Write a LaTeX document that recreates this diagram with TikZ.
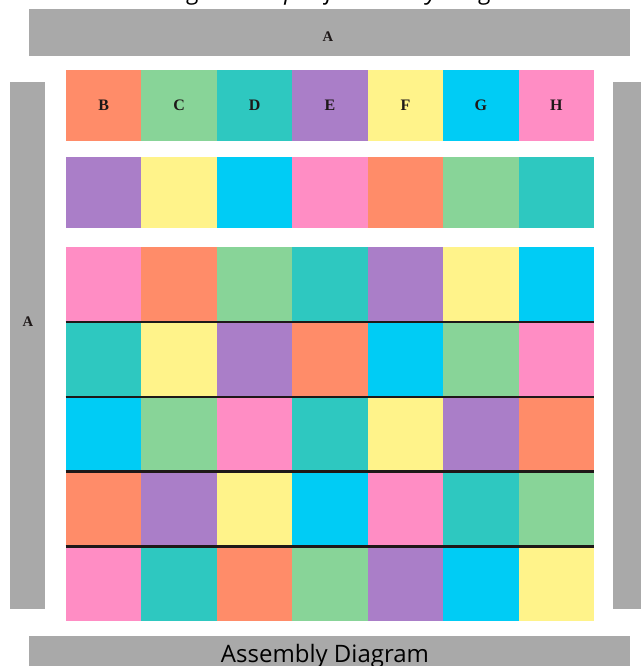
\documentclass[tikz,border=0pt]{standalone}
\usepackage{fontspec}
\setmainfont{Open Sans}
\newfontfamily\letterfont{Liberation Serif}
\usetikzlibrary{positioning}

\definecolor{barGrey}{RGB}{169,169,169}
\definecolor{tileOrange}{RGB}{255,140,105}
\definecolor{tileGreen}{RGB}{136,212,152}
\definecolor{tileTeal}{RGB}{46,200,192}
\definecolor{tilePurple}{RGB}{170,126,200}
\definecolor{tileYellow}{RGB}{255,243,138}
\definecolor{tileCyan}{RGB}{0,204,245}
\definecolor{tilePink}{RGB}{255,141,196}
\definecolor{inkDark}{RGB}{30,24,24}

\begin{document}
\begin{tikzpicture}[x=0.75pt,y=-0.75pt]
\tikzset{
  greybar/.style={fill=barGrey,draw=none,inner sep=0pt},
  barletter/.style={inner sep=0pt,text=inkDark,font=\letterfont\bfseries\fontsize{11}{13}\selectfont},
  tile/.style={draw=none,inner sep=0pt,minimum width=56.6pt,text=inkDark,font=\letterfont\bfseries\fontsize{12}{14}\selectfont},
  toptile/.style={tile,minimum height=53.6pt},
  gridtile/.style={tile,minimum height=56.1pt},
  tOrange/.style={fill=tileOrange},
  tGreen/.style={fill=tileGreen},
  tTeal/.style={fill=tileTeal},
  tPurple/.style={fill=tilePurple},
  tYellow/.style={fill=tileYellow},
  tCyan/.style={fill=tileCyan},
  tPink/.style={fill=tilePink},
  rowline/.style={draw=inkDark,line width=1.9pt}
}
\useasboundingbox[fill=white] (0,0) rectangle (640,666);
% title, cut by the page edge
\node[anchor=base west,inner sep=0pt,font=\itshape\fontsize{18}{20}\selectfont] (title) at (143,0) {Design Concept of Assembly Diagram};
% grey frame
\node[greybar,minimum width=450.8pt,minimum height=35.3pt] (barTop) at (329.5,32.5) {};
\node[greybar,minimum width=26.3pt,minimum height=395.3pt] (barLeft) at (27.5,345.5) {};
\node[greybar,minimum width=35.3pt,minimum height=395.3pt] (barRight) at (636.5,345.5) {};
\node[greybar,minimum width=450.8pt,minimum height=40.5pt] (barBottom) at (329.5,663) {};
\node[barletter] (labTop) at (328,37) {A};
\node[barletter] (labLeft) at (28,322) {A};
\node[anchor=base,inner sep=0pt,font=\fontsize{18}{20}\selectfont] (labBottom) at (325,662) {Assembly Diagram};
% header row
\node[toptile,tOrange] (hB) at (103.7,105.7) {B};
\node[toptile,tGreen]  (hC) at (179.1,105.7) {C};
\node[toptile,tTeal]   (hD) at (254.6,105.7) {D};
\node[toptile,tPurple] (hE) at (330.0,105.7) {E};
\node[toptile,tYellow] (hF) at (405.4,105.7) {F};
\node[toptile,tCyan]   (hG) at (480.9,105.7) {G};
\node[toptile,tPink]   (hH) at (556.3,105.7) {H};
% second row
\node[toptile,tPurple] (s1) at (103.7,192.3) {};
\node[toptile,tYellow] (s2) at (179.1,192.3) {};
\node[toptile,tCyan]   (s3) at (254.6,192.3) {};
\node[toptile,tPink]   (s4) at (330.0,192.3) {};
\node[toptile,tOrange] (s5) at (405.4,192.3) {};
\node[toptile,tGreen]  (s6) at (480.9,192.3) {};
\node[toptile,tTeal]   (s7) at (556.3,192.3) {};
% grid, row 1
\node[gridtile,tPink]   (g11) at (103.7,284.4) {};
\node[gridtile,tOrange] (g12) at (179.1,284.4) {};
\node[gridtile,tGreen]  (g13) at (254.6,284.4) {};
\node[gridtile,tTeal]   (g14) at (330.0,284.4) {};
\node[gridtile,tPurple] (g15) at (405.4,284.4) {};
\node[gridtile,tYellow] (g16) at (480.9,284.4) {};
\node[gridtile,tCyan]   (g17) at (556.3,284.4) {};
% grid, row 2
\node[gridtile,tTeal]   (g21) at (103.7,359.2) {};
\node[gridtile,tYellow] (g22) at (179.1,359.2) {};
\node[gridtile,tPurple] (g23) at (254.6,359.2) {};
\node[gridtile,tOrange] (g24) at (330.0,359.2) {};
\node[gridtile,tCyan]   (g25) at (405.4,359.2) {};
\node[gridtile,tGreen]  (g26) at (480.9,359.2) {};
\node[gridtile,tPink]   (g27) at (556.3,359.2) {};
% grid, row 3
\node[gridtile,tCyan]   (g31) at (103.7,434.0) {};
\node[gridtile,tGreen]  (g32) at (179.1,434.0) {};
\node[gridtile,tPink]   (g33) at (254.6,434.0) {};
\node[gridtile,tTeal]   (g34) at (330.0,434.0) {};
\node[gridtile,tYellow] (g35) at (405.4,434.0) {};
\node[gridtile,tPurple] (g36) at (480.9,434.0) {};
\node[gridtile,tOrange] (g37) at (556.3,434.0) {};
% grid, row 4
\node[gridtile,tOrange] (g41) at (103.7,508.8) {};
\node[gridtile,tPurple] (g42) at (179.1,508.8) {};
\node[gridtile,tYellow] (g43) at (254.6,508.8) {};
\node[gridtile,tCyan]   (g44) at (330.0,508.8) {};
\node[gridtile,tPink]   (g45) at (405.4,508.8) {};
\node[gridtile,tTeal]   (g46) at (480.9,508.8) {};
\node[gridtile,tGreen]  (g47) at (556.3,508.8) {};
% grid, row 5
\node[gridtile,tPink]   (g51) at (103.7,583.6) {};
\node[gridtile,tTeal]   (g52) at (179.1,583.6) {};
\node[gridtile,tOrange] (g53) at (254.6,583.6) {};
\node[gridtile,tGreen]  (g54) at (330.0,583.6) {};
\node[gridtile,tPurple] (g55) at (405.4,583.6) {};
\node[gridtile,tCyan]   (g56) at (480.9,583.6) {};
\node[gridtile,tYellow] (g57) at (556.3,583.6) {};
% row separators
\draw[rowline] (g11.south west) -- (g17.south east);
\draw[rowline] (g21.south west) -- (g27.south east);
\draw[rowline] (g31.south west) -- (g37.south east);
\draw[rowline] (g41.south west) -- (g47.south east);
\end{tikzpicture}
\end{document}
